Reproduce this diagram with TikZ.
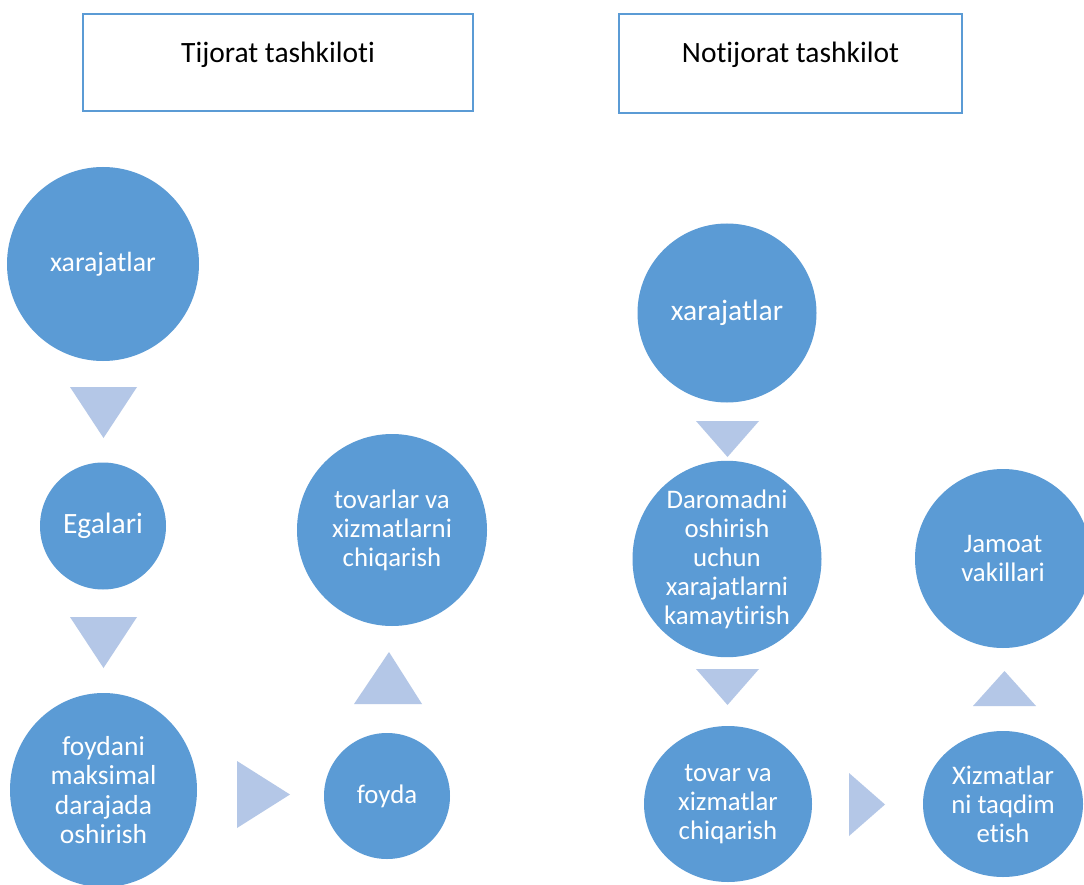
\documentclass[tikz,border=0pt]{standalone}
\usepackage{fontspec}
\setmainfont[Ligatures={NoCommon,NoRequired,NoContextual}]{Carlito}
\usetikzlibrary{shapes.geometric}
\definecolor{cblue}{HTML}{5B9BD5}
\definecolor{tblue}{HTML}{B4C7E7}
\begin{document}
\begin{tikzpicture}[x=1pt,y=-1pt,
  bub/.style={ellipse, fill=cblue, draw=none, inner sep=0pt, text=white, align=center, font=\fontsize{26.8}{29}\selectfont},
  tbox/.style={draw=cblue, line width=2.2pt, fill=white, inner sep=0pt},
  ttext/.style={anchor=base, text=black, font=\fontsize{29.5}{34}\selectfont},
  tri/.style={fill=tblue, draw=none}]
\useasboundingbox (0,0) rectangle (1084,885);
\fill[white] (0,0) rectangle (1084,885);

% title boxes
\node[tbox, minimum width=390pt, minimum height=97pt] (b1) at (278,62.5) {};
\node[ttext] (t1) at (278,62.5) {Tijorat tashkiloti};
\node[tbox, minimum width=343pt, minimum height=99pt] (b2) at (790.5,63.5) {};
\node[ttext] (t2) at (790.5,62.5) {Notijorat tashkilot};

% left chain
\node[bub, minimum width=192pt, minimum height=194pt, font=\fontsize{27.8}{30}\selectfont] (l1) at (103,264) {xarajatlar};
\node[bub, minimum width=126pt, minimum height=127pt, font=\fontsize{29.5}{32}\selectfont] (l2) at (103,526) {Egalari};
\node[bub, minimum width=187pt, minimum height=194pt, font=\fontsize{27.5}{29.3}\selectfont] (l3) at (103.5,790) {foydani\\maksimal\\darajada\\oshirish};
\node[bub, minimum width=126pt, minimum height=126pt] (l4) at (387,796) {foyda};
\node[bub, minimum width=190pt, minimum height=192pt] (l5) at (392,530) {tovarlar va\\xizmatlarni\\chiqarish};

% right chain
\node[bub, minimum width=179pt, minimum height=179pt, font=\fontsize{29.5}{32}\selectfont] (r1) at (727,313) {xarajatlar};
\node[bub, minimum width=189pt, minimum height=174pt] (r2) at (727,559) {Daromadni\\oshirish\\uchun\\xarajatlarni\\kamaytirish};
\node[bub, minimum width=168pt, minimum height=156pt] (r3) at (728,804) {tovar va\\xizmatlar\\chiqarish};
\node[bub, minimum width=160pt, minimum height=146pt] (r4) at (1003,804) {Xizmatlar\\ni taqdim\\etish};
\node[bub, minimum width=176pt, minimum height=179pt] (r5) at (1003,558.5) {Jamoat\\vakillari};

% triangle arrows
\fill[tri] (70,387) -- (137,387) -- (103.5,438) -- cycle;
\fill[tri] (70,617) -- (137,617) -- (103.5,668) -- cycle;
\fill[tri] (237,761) -- (237,828) -- (290,794.5) -- cycle;
\fill[tri] (354,704) -- (422,704) -- (389,652) -- cycle;
\fill[tri] (696,421) -- (759,421) -- (727.5,457) -- cycle;
\fill[tri] (696,669) -- (759,669) -- (727.5,705) -- cycle;
\fill[tri] (849,773) -- (849,836) -- (885,804.5) -- cycle;
\fill[tri] (973,706) -- (1036,706) -- (1004.5,671) -- cycle;
\end{tikzpicture}
\end{document}
